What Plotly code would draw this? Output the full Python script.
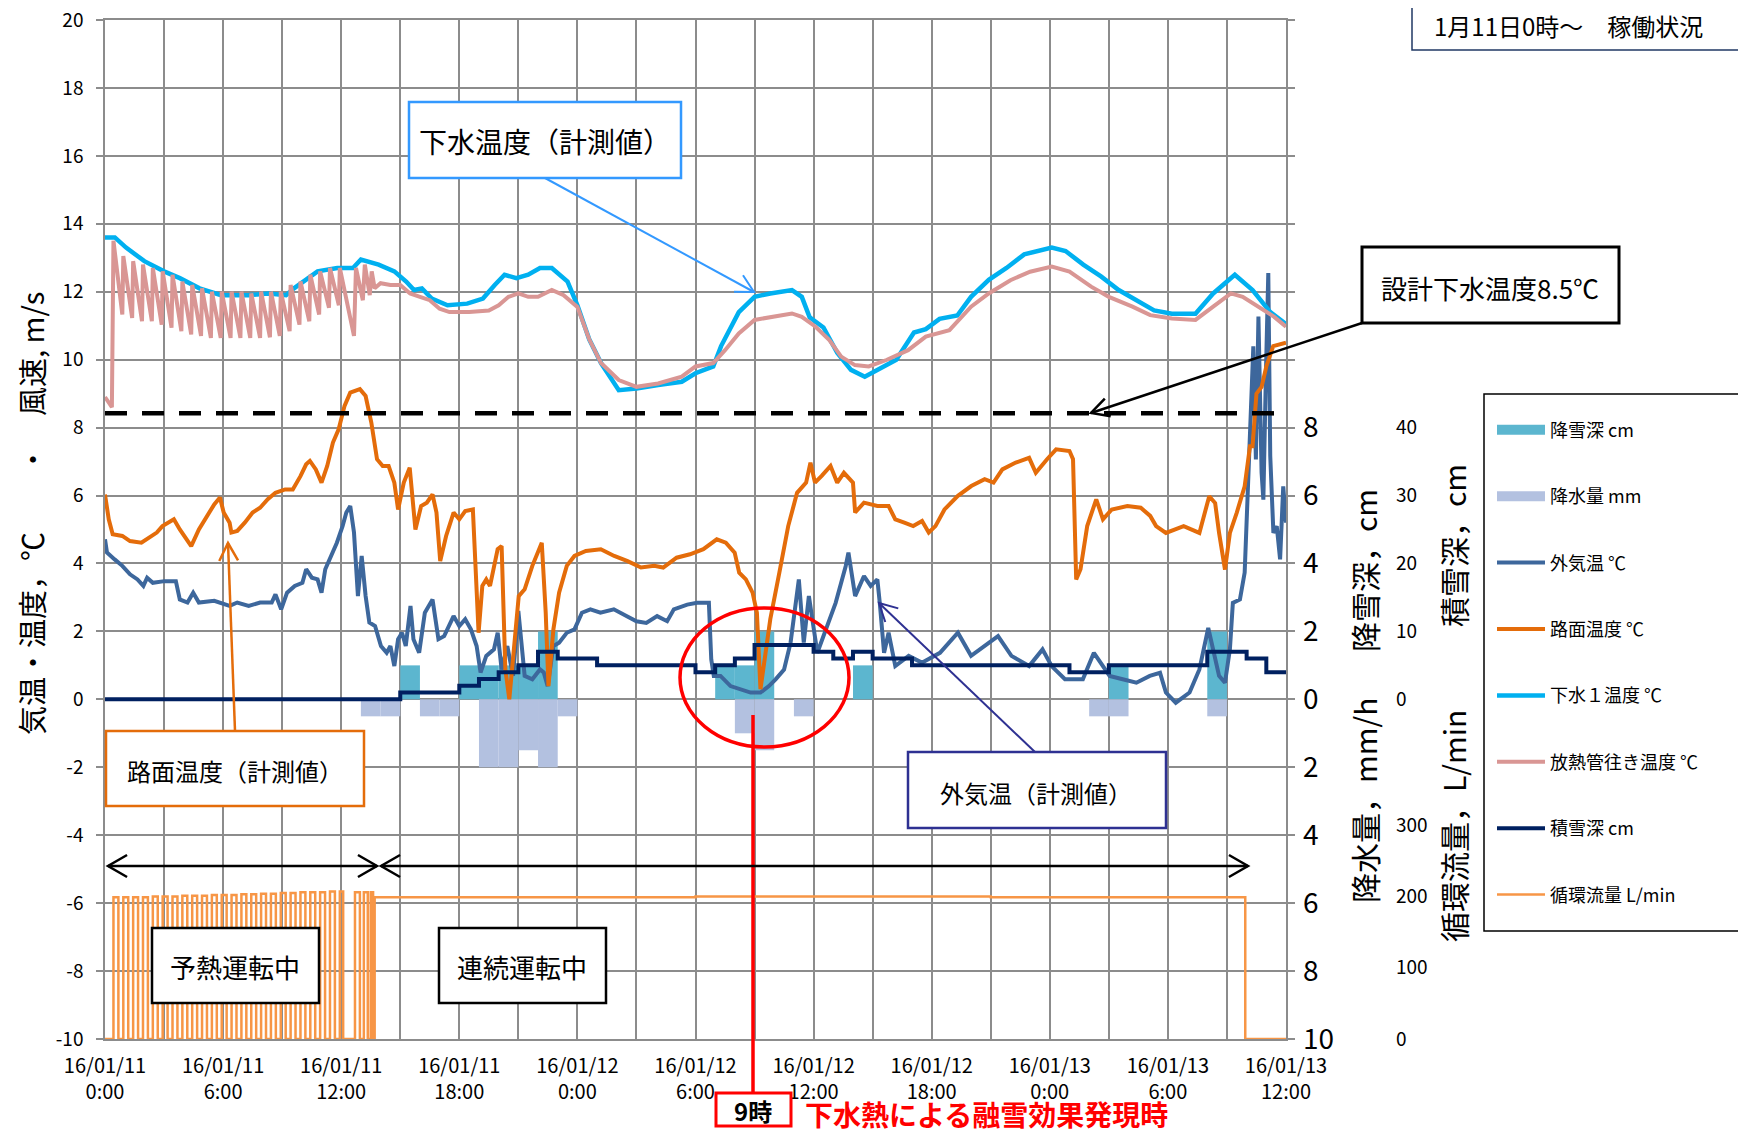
import math
import plotly.graph_objects as go

# ---------------- data (x = hours since 2016-01-11 00:00) ----------------
x_tick_hours = [0, 6, 12, 18, 24, 30, 36, 42, 48, 54, 60]
x_tick_text = ["16/01/11<br>0:00", "16/01/11<br>6:00", "16/01/11<br>12:00", "16/01/11<br>18:00",
               "16/01/12<br>0:00", "16/01/12<br>6:00", "16/01/12<br>12:00", "16/01/12<br>18:00",
               "16/01/13<br>0:00", "16/01/13<br>6:00", "16/01/13<br>12:00"]
temp_ticks = [-10, -8, -6, -4, -2, 0, 2, 4, 6, 8, 10, 12, 14, 16, 18, 20]
snowfall_ticks = [0, 2, 4, 6, 8]
precip_ticks = [2, 4, 6, 8, 10]
depth_ticks = [0, 10, 20, 30, 40]
flow_ticks = [0, 100, 200, 300]

# 降雪深 cm (hourly, bar starts at the hour)
snowfall_hour = [15, 18, 19, 20, 21, 22, 31, 32, 33, 38, 51, 56]
snowfall_cm = [1, 1, 1, 1, 1, 2, 1, 1, 2, 1, 1, 2]
# 降水量 mm/h
precip_hour = [13, 14, 16, 17, 19, 20, 21, 22, 23, 32, 33, 35, 50, 51, 56]
precip_mm = [0.5, 0.5, 0.5, 0.5, 2, 2, 1.5, 2, 0.5, 1, 1.5, 0.5, 0.5, 0.5, 0.5]

# 外気温 ℃
air_temp = [(0, 4.71), (0.1, 4.32), (0.49, 4.12), (0.88, 3.93), (1.27, 3.68), (1.65, 3.53), (1.95, 3.34),
            (2.14, 3.58), (2.43, 3.43), (3.02, 3.48), (3.6, 3.48), (3.8, 2.94), (4.19, 2.85), (4.48, 3.14),
            (4.77, 2.85), (5.55, 2.9), (6.33, 2.75), (6.72, 2.85), (7.3, 2.75), (7.88, 2.85), (8.47, 2.85),
            (8.66, 3.09), (8.95, 2.65), (9.25, 3.14), (9.64, 3.34), (10.03, 3.43), (10.22, 3.83), (10.51, 3.58),
            (10.8, 3.53), (11.0, 3.14), (11.19, 3.83), (11.49, 4.22), (11.78, 4.61), (12.07, 5.1), (12.26, 5.5),
            (12.46, 5.69), (12.65, 4.91), (12.85, 3.04), (13.04, 4.22), (13.24, 3.04), (13.43, 2.26),
            (13.72, 2.16), (14.02, 1.57), (14.31, 1.37), (14.5, 1.57), (14.7, 0.98), (14.89, 1.77), (15.09, 1.96),
            (15.28, 1.57), (15.52, 2.75), (15.67, 1.77), (15.96, 1.37), (16.25, 2.55), (16.64, 2.94),
            (16.94, 1.77), (17.23, 1.86), (17.71, 2.45), (18.0, 2.16), (18.3, 2.36), (18.59, 2.06), (18.88, 1.57),
            (19.08, 0.79), (19.37, 1.28), (19.76, 1.47), (19.95, 1.96), (20.15, 0.88), (20.44, 1.57),
            (20.73, 0.69), (21.0, 2.6), (21.32, 0.69), (21.71, 0.59), (22.1, 0.88), (22.29, 0.79), (22.49, 0.39),
            (22.78, 1.57), (23.07, 1.67), (23.46, 1.96), (23.85, 2.06), (24.23, 2.55), (24.66, 2.65),
            (25.17, 2.55), (25.85, 2.65), (26.5, 2.45), (27.0, 2.3), (27.5, 2.25), (28.05, 2.45), (28.56, 2.3),
            (28.9, 2.65), (29.58, 2.79), (30.08, 2.84), (30.68, 2.84), (30.8, 1.18), (30.93, 0.69), (31.27, 0.69),
            (31.78, 0.39), (32.29, 0.29), (32.8, 0.2), (33.3, 0.2), (33.73, 0.39), (34.07, 0.59), (34.5, 0.88),
            (34.83, 1.67), (35.25, 3.53), (35.5, 1.67), (35.76, 3.04), (36.19, 1.37), (36.69, 2.16),
            (37.12, 2.84), (37.63, 3.92), (37.77, 4.32), (38.11, 3.04), (38.56, 3.63), (38.9, 3.34),
            (39.24, 3.53), (39.36, 2.85), (39.58, 1.37), (39.81, 1.96), (40.15, 0.98), (40.83, 1.28),
            (41.5, 1.08), (42.42, 1.37), (43.33, 1.96), (44.0, 1.28), (44.7, 1.57), (45.37, 1.86), (46.05, 1.28),
            (46.95, 0.98), (47.63, 1.47), (48.09, 0.98), (48.77, 0.59), (49.68, 0.59), (50.24, 1.37),
            (51.04, 0.69), (51.7, 0.59), (52.4, 0.49), (53.08, 0.69), (53.6, 0.78), (53.9, 0.2), (54.4, -0.1),
            (55.1, 0.2), (55.6, 0.88), (56.05, 2.1), (56.3, 1.47), (56.6, 0.69), (56.9, 0.49), (57.15, 1.47),
            (57.3, 2.84), (57.66, 2.94), (57.9, 3.73), (58.1, 6.67), (58.2, 8.82), (58.34, 10.39), (58.47, 7.06),
            (58.6, 11.27), (58.76, 6.67), (58.85, 5.88), (58.98, 9.6), (59.1, 12.55), (59.2, 7.16), (59.36, 4.9),
            (59.53, 5.1), (59.7, 4.12), (59.86, 6.27), (60.0, 5.2)]

# 路面温度 ℃
road_temp = [(0, 6.03), (0.19, 5.3), (0.39, 4.86), (0.88, 4.81), (1.27, 4.66), (1.85, 4.61), (2.24, 4.76),
             (2.63, 4.91), (2.92, 5.1), (3.21, 5.2), (3.5, 5.3), (3.8, 5.0), (4.09, 4.76), (4.38, 4.51), (4.77, 5.0),
             (5.26, 5.5), (5.55, 5.74), (5.84, 5.94), (6.03, 5.5), (6.33, 5.2), (6.42, 4.91), (6.72, 4.96),
             (7.1, 5.2), (7.5, 5.5), (7.88, 5.64), (8.27, 5.89), (8.66, 6.08), (9.15, 6.18), (9.54, 6.18),
             (9.93, 6.57), (10.22, 6.92), (10.41, 7.02), (10.71, 6.77), (11.0, 6.38), (11.29, 6.87), (11.58, 7.56),
             (11.87, 7.95), (12.17, 8.64), (12.46, 9.03), (12.95, 9.13), (13.24, 8.93), (13.53, 8.15),
             (13.82, 7.07), (14.11, 6.87), (14.41, 6.87), (14.7, 6.38), (14.89, 5.59), (15.18, 6.38),
             (15.48, 6.82), (15.77, 5.0), (16.06, 5.69), (16.35, 5.79), (16.64, 6.03), (16.84, 5.5), (17.03, 4.07),
             (17.33, 4.81), (17.71, 5.5), (18.0, 5.3), (18.3, 5.54), (18.69, 5.59), (18.79, 4.22), (18.98, 1.96),
             (19.17, 3.34), (19.37, 3.53), (19.56, 3.34), (19.95, 4.42), (20.15, 4.51), (20.34, 0.88),
             (20.54, 0.0), (20.83, 1.77), (21.02, 3.04), (21.32, 3.24), (21.71, 3.93), (22.19, 4.61),
             (22.39, 2.55), (22.53, 0.39), (22.78, 2.06), (23.07, 3.14), (23.46, 3.93), (23.85, 4.22),
             (24.43, 4.37), (25.19, 4.42), (25.87, 4.22), (26.55, 4.07), (27.23, 3.88), (27.9, 3.93),
             (28.36, 3.88), (29.04, 4.17), (29.72, 4.27), (30.4, 4.42), (31.08, 4.71), (31.54, 4.61),
             (31.99, 4.32), (32.22, 3.73), (32.56, 3.53), (32.9, 3.14), (33.12, 2.55), (33.3, 0.3), (33.46, 0.98),
             (33.8, 2.36), (34.26, 3.73), (34.71, 5.1), (35.16, 6.08), (35.62, 6.38), (35.84, 6.97), (36.07, 6.38),
             (36.41, 6.58), (36.86, 6.87), (37.2, 6.38), (37.54, 6.67), (38.0, 6.38), (38.11, 5.5), (38.56, 5.79),
             (39.24, 5.69), (39.81, 5.69), (40.15, 5.3), (40.61, 5.2), (41.06, 5.1), (41.51, 5.25), (41.85, 4.91),
             (42.19, 5.1), (42.65, 5.59), (43.33, 5.99), (44.01, 6.28), (44.69, 6.48), (45.14, 6.38),
             (45.59, 6.77), (46.27, 6.97), (46.95, 7.11), (47.29, 6.67), (47.86, 7.07), (48.32, 7.36), (49.0, 7.31),
             (49.18, 7.07), (49.34, 3.53), (49.56, 3.83), (49.9, 5.1), (50.36, 5.89), (50.7, 5.3), (51.15, 5.59),
             (51.94, 5.69), (52.62, 5.64), (53.1, 5.4), (53.4, 5.1), (53.9, 4.9), (54.8, 5.1), (55.6, 4.9),
             (56.1, 5.98), (56.4, 5.78), (56.6, 4.9), (56.9, 3.82), (57.15, 4.9), (57.5, 5.5), (57.9, 6.27),
             (58.17, 7.45), (58.3, 7.45), (58.5, 9.0), (58.76, 9.2), (59.0, 9.8), (59.35, 10.4), (60.0, 10.5)]

# 下水1温度 ℃
sewage_temp = [(0, 13.6), (0.5, 13.6), (1.07, 13.3), (2.0, 12.9), (3.0, 12.6), (3.8, 12.4), (4.8, 12.1),
               (5.9, 11.9), (7.3, 11.9), (8.3, 11.95), (9.2, 11.9), (9.6, 12.1), (10.2, 12.35), (10.8, 12.6),
               (11.8, 12.7), (12.6, 12.7), (13.0, 12.95), (13.9, 12.8), (14.7, 12.6), (15.3, 12.3), (15.7, 12.05),
               (16.1, 12.1), (16.6, 11.8), (17.4, 11.6), (18.4, 11.65), (19.2, 11.8), (19.8, 12.2), (20.3, 12.5),
               (20.9, 12.4), (21.5, 12.5), (22.1, 12.7), (22.7, 12.7), (23.5, 12.3), (24.0, 11.6), (24.6, 10.6),
               (25.2, 9.9), (26.1, 9.1), (27.0, 9.15), (28.1, 9.25), (29.3, 9.35), (30.0, 9.6), (30.9, 9.8),
               (31.3, 10.4), (32.2, 11.4), (33.0, 11.85), (33.8, 11.95), (34.9, 12.05), (35.4, 11.85),
               (35.8, 11.25), (36.5, 10.95), (37.2, 10.2), (37.9, 9.7), (38.6, 9.5), (39.2, 9.7), (40.2, 10.0),
               (41.1, 10.8), (41.7, 10.9), (42.4, 11.2), (43.3, 11.3), (44.0, 11.85), (44.9, 12.35), (45.8, 12.7),
               (46.7, 13.1), (48.1, 13.3), (48.8, 13.2), (49.7, 12.8), (50.6, 12.45), (51.5, 12.05), (52.4, 11.75),
               (53.3, 11.45), (54.2, 11.35), (55.4, 11.35), (56.3, 11.95), (57.4, 12.5), (58.3, 12.05),
               (59.2, 11.4), (60.0, 11.05)]

# 放熱管往き温度 ℃
pipe_temp = [(0, 8.9), (0.35, 8.6), (0.43, 13.5), (0.88, 11.33), (0.93, 13.05), (1.38, 11.23), (1.43, 12.9),
             (1.88, 11.13), (1.93, 12.8), (2.38, 11.13), (2.43, 12.7), (2.88, 11.03), (2.93, 12.6), (3.38, 10.94),
             (3.43, 12.5), (3.88, 10.84), (3.93, 12.3), (4.38, 10.74), (4.43, 12.2), (4.88, 10.7), (4.93, 12.1),
             (5.38, 10.64), (5.43, 12.0), (5.88, 10.64), (5.93, 12.0), (6.38, 10.64), (6.43, 12.0), (6.88, 10.64),
             (6.93, 12.0), (7.38, 10.64), (7.43, 11.95), (7.88, 10.64), (7.93, 12.0), (8.38, 10.66), (8.43, 12.0),
             (8.88, 10.7), (8.93, 12.0), (9.38, 10.84), (9.43, 12.2), (9.88, 11.03), (9.93, 12.3), (10.38, 11.13),
             (10.43, 12.5), (10.88, 11.33), (10.93, 12.6), (11.38, 11.53), (11.43, 12.7), (11.88, 11.6),
             (11.93, 12.7), (12.65, 10.7), (12.75, 12.7), (13.1, 11.75), (13.2, 12.8), (13.45, 11.9),
             (13.55, 12.6), (13.7, 12.1), (14.0, 12.25), (14.5, 12.2), (15.0, 12.2), (15.5, 11.95), (16.0, 11.85),
             (16.5, 11.75), (17.0, 11.5), (17.5, 11.4), (18.5, 11.4), (19.5, 11.45), (20.0, 11.6), (20.5, 11.85),
             (21.0, 11.95), (21.5, 11.85), (22.0, 11.85), (22.7, 12.05), (23.3, 11.9), (24.0, 11.55), (24.6, 10.6),
             (25.2, 9.9), (26.1, 9.4), (27.0, 9.2), (28.1, 9.3), (29.3, 9.5), (30.0, 9.8), (30.9, 9.9),
             (31.5, 10.28), (32.2, 10.77), (33.0, 11.17), (33.8, 11.26), (34.9, 11.36), (35.4, 11.26),
             (36.1, 10.97), (36.8, 10.58), (37.4, 10.09), (38.1, 9.84), (38.8, 9.8), (39.7, 9.99), (40.8, 10.28),
             (41.7, 10.68), (42.9, 10.87), (44.0, 11.56), (44.9, 11.95), (46.0, 12.34), (47.0, 12.59),
             (48.1, 12.74), (49.0, 12.59), (50.1, 12.15), (51.0, 11.85), (52.2, 11.56), (53.1, 11.31),
             (54.2, 11.21), (55.4, 11.17), (56.3, 11.56), (57.2, 11.95), (57.8, 11.85), (58.8, 11.46),
             (59.4, 11.26), (60.0, 10.97)]

# 設計下水温度 (dashed reference line as drawn)
design_temp = [(0, 8.42), (60, 8.42)]

# 積雪深 cm (step values from each hour)
snow_depth = [(0, 0), (15, 1), (18, 2), (19, 3), (20, 4), (21, 5), (22, 7), (23, 6), (25, 5), (30, 4), (31, 5),
              (32, 6), (33, 8), (36, 7), (37, 6), (38, 7), (39, 6), (41, 5), (49, 4), (51, 5), (56, 7), (58, 6),
              (59, 4), (60, 4)]

# 循環流量 L/min (step values)
flow = [(0, 0), (0.43, 199), (0.68, 0), (0.93, 199), (1.18, 0), (1.43, 199), (1.68, 0), (1.93, 199), (2.18, 0),
        (2.43, 200), (2.68, 0), (2.93, 200), (3.18, 0), (3.43, 200), (3.68, 0), (3.93, 201), (4.18, 0),
        (4.43, 201), (4.68, 0), (4.93, 201), (5.18, 0), (5.43, 202), (5.68, 0), (5.93, 202), (6.18, 0),
        (6.43, 202), (6.68, 0), (6.93, 203), (7.18, 0), (7.43, 203), (7.68, 0), (7.93, 204), (8.18, 0),
        (8.43, 204), (8.68, 0), (8.93, 205), (9.18, 0), (9.43, 205), (9.68, 0), (9.93, 206), (10.18, 0),
        (10.43, 206), (10.68, 0), (10.93, 206), (11.18, 0), (11.43, 207), (11.68, 0), (11.93, 207), (12.1, 0),
        (12.7, 206), (12.95, 0), (13.15, 206), (13.35, 0), (13.5, 206), (13.62, 0), (13.7, 199), (30.0, 200),
        (45.0, 199), (57.93, 0), (60.0, 0)]

# ---------------- layout helpers (screen pixel -> paper) ----------------
# the page body has an 8px margin, so the figure is drawn 8px in from the window corner
OFF = 8
WF, HF = 1746 - OFF, 1134 - OFF
ML, MR, MT, MB = 97, 8, 12, 95


def px(x):
    return (x - OFF - ML) / (WF - ML - MR)


def py(y):
    return (HF - MB - (y - OFF)) / (HF - MT - MB)


FONT = "Noto Sans CJK JP"
GRID = "#8c8c8c"
C_SNOW = "#5cb6cf"
C_PREC = "#b3c1e0"
C_AIR = "#3d679c"
C_ROAD = "#e46c0a"
C_SEW = "#00b0f0"
C_PIPE = "#d99694"
C_DEPTH = "#002060"
C_FLOW = "#f79646"


def xs(pairs):
    return [p[0] for p in pairs]


def ys(pairs):
    return [p[1] for p in pairs]


fig = go.Figure()
fig.add_trace(go.Bar(x=snowfall_hour, y=snowfall_cm, width=1, offset=0, marker=dict(color=C_SNOW, line_width=0),
                     name="降雪深 cm", yaxis="y", showlegend=False))
fig.add_trace(go.Bar(x=precip_hour, y=precip_mm, width=1, offset=0, marker=dict(color=C_PREC, line_width=0),
                     name="降水量 mm", yaxis="y2", showlegend=False))
# legend swatches for the two bar series (wide rectangles, as in the original legend)
fig.add_trace(go.Scatter(x=[None], y=[None], mode="lines", line=dict(color=C_SNOW, width=10),
                         name="降雪深 cm", yaxis="y", legendgroup="a"))
fig.add_trace(go.Scatter(x=[None], y=[None], mode="lines", line=dict(color=C_PREC, width=10),
                         name="降水量 mm", yaxis="y2", legendgroup="b"))
fig.add_trace(go.Scatter(x=xs(air_temp), y=ys(air_temp), mode="lines", line=dict(color=C_AIR, width=4),
                         name="外気温 ℃", yaxis="y3", legendgroup="c"))
fig.add_trace(go.Scatter(x=xs(road_temp), y=ys(road_temp), mode="lines", line=dict(color=C_ROAD, width=4),
                         name="路面温度 ℃", yaxis="y3", legendgroup="d"))
fig.add_trace(go.Scatter(x=xs(sewage_temp), y=ys(sewage_temp), mode="lines", line=dict(color=C_SEW, width=4.5),
                         name="下水１温度 ℃", yaxis="y3", legendgroup="e"))
fig.add_trace(go.Scatter(x=xs(pipe_temp), y=ys(pipe_temp), mode="lines", line=dict(color=C_PIPE, width=4),
                         name="放熱管往き温度 ℃", yaxis="y3", legendgroup="f"))
fig.add_trace(go.Scatter(x=xs(design_temp), y=ys(design_temp), mode="lines",
                         line=dict(color="black", width=4.5, dash="22px,15px"),
                         name="設計下水温度", yaxis="y3", showlegend=False))
fig.add_trace(go.Scatter(x=xs(snow_depth), y=ys(snow_depth), mode="lines", line=dict(color=C_DEPTH, width=4, shape="hv"),
                         name="積雪深 cm", yaxis="y4", legendgroup="g"))
fig.add_trace(go.Scatter(x=xs(flow), y=ys(flow), mode="lines", line=dict(color=C_FLOW, width=2.5, shape="hv"),
                         name="循環流量 L/min", yaxis="y5", legendgroup="h"))

x_end = px(1286)
axis_common = dict(zeroline=False, automargin=False, showgrid=False, ticklabeloverflow="allow")

fig.update_layout(
    template="none",
    width=WF, height=HF,
    margin=dict(l=ML, r=MR, t=MT, b=MB),
    paper_bgcolor="white", plot_bgcolor="white",
    font=dict(family=FONT, color="black"),
    hovermode=False,
    barmode="overlay",
    xaxis=dict(domain=[0, x_end], range=[0, 60], tickvals=x_tick_hours, ticktext=x_tick_text,
               showgrid=True, gridcolor=GRID, gridwidth=1.5,
               minor=dict(dtick=3, tick0=0, showgrid=True, gridcolor=GRID, gridwidth=1.5),
               showline=True, linecolor=GRID, linewidth=1.5, mirror=True, zeroline=False, automargin=False,
               tickfont=dict(size=20, color="black"), ticks="", ticklabelstandoff=8,
               ticklabeloverflow="allow"),
    yaxis=dict(range=[-10, 20], side="right", anchor="x", tickvals=snowfall_ticks,
               ticktext=[str(v) for v in snowfall_ticks], tickfont=dict(size=28, color="black"),
               ticks="", ticklabelstandoff=16, **axis_common),
    yaxis2=dict(range=[10, -20], side="right", anchor="x", overlaying="y", tickvals=precip_ticks,
                ticktext=[str(v) for v in precip_ticks], tickfont=dict(size=28, color="black"),
                ticks="", ticklabelstandoff=16, **axis_common),
    yaxis3=dict(range=[-10, 20], side="left", anchor="x", overlaying="y", tickvals=temp_ticks,
                ticktext=[str(v) for v in temp_ticks], tickfont=dict(size=19, color="black"),
                showgrid=True, gridcolor=GRID, gridwidth=1.5, showline=True, linecolor=GRID, linewidth=1.5,
                mirror="ticks", ticks="outside", ticklen=7, tickcolor=GRID, tickwidth=1.5,
                ticklabelstandoff=9, zeroline=False, automargin=False, ticklabeloverflow="allow"),
    yaxis4=dict(range=[-50, 100], side="right", anchor="free", position=px(1395), overlaying="y",
                tickvals=depth_ticks, ticktext=[str(v) for v in depth_ticks],
                tickfont=dict(size=19, color="black"), ticks="", **axis_common),
    yaxis5=dict(range=[0, 1430], side="right", anchor="free", position=px(1395), overlaying="y",
                tickvals=flow_ticks, ticktext=[str(v) for v in flow_ticks],
                tickfont=dict(size=19, color="black"), ticks="", **axis_common),
    legend=dict(x=px(1492), y=py(396), xanchor="left", yanchor="top", bgcolor="rgba(0,0,0,0)",
                borderwidth=0, font=dict(size=18, color="black"), tracegroupgap=40, itemwidth=48,
                title=dict(text=" ", font=dict(size=12))),
    showlegend=True,
)

shapes = []
annotations = []


def rect(x0, y0, x1, y1, color, width, fill="white"):
    shapes.append(dict(type="rect", xref="paper", yref="paper", x0=px(x0), x1=px(x1), y0=py(y0), y1=py(y1),
                       line=dict(color=color, width=width), fillcolor=fill, layer="above"))


def seg(x0, y0, x1, y1, color, width):
    shapes.append(dict(type="line", xref="paper", yref="paper", x0=px(x0), x1=px(x1), y0=py(y0), y1=py(y1),
                       line=dict(color=color, width=width), layer="above"))


def chevron(xt, yt, xf, yf, color, width, length=20, ang=28):
    d = math.hypot(xf - xt, yf - yt)
    ux, uy = (xf - xt) / d, (yf - yt) / d
    pts = []
    for s in (1, -1):
        a = math.radians(ang * s)
        rx = ux * math.cos(a) - uy * math.sin(a)
        ry = ux * math.sin(a) + uy * math.cos(a)
        pts.append((xt + rx * length, yt + ry * length))
    path = "M {:.5f},{:.5f} L {:.5f},{:.5f} L {:.5f},{:.5f}".format(
        px(pts[0][0]), py(pts[0][1]), px(xt), py(yt), px(pts[1][0]), py(pts[1][1]))
    shapes.append(dict(type="path", xref="paper", yref="paper", path=path,
                       line=dict(color=color, width=width), layer="above"))


def arrow(xf, yf, xt, yt, color, width, length=20):
    seg(xf, yf, xt, yt, color, width)
    chevron(xt, yt, xf, yf, color, width, length)


def text(x, y, s, size, color="black", angle=0):
    annotations.append(dict(xref="paper", yref="paper", x=px(x), y=py(y), text=s, showarrow=False,
                            xanchor="center", yanchor="middle", textangle=angle,
                            font=dict(size=size, color=color, family=FONT)))


# axis titles
text(31, 514, "気温・温度，℃　　・　風速, m/s", 29, angle=-90)
text(1364, 571, "降雪深，cm", 30, angle=-90)
text(1364, 800, "降水量，mm/h", 30, angle=-90)
text(1453, 546, "積雪深，cm", 30, angle=-90)
text(1453, 826, "循環流量，L/min", 30, angle=-90)

# legend frame
shapes.append(dict(type="rect", xref="paper", yref="paper", x0=px(1484), x1=px(1739), y0=py(394), y1=py(931),
                   line=dict(color="black", width=1.5), fillcolor="rgba(0,0,0,0)", layer="above"))

# title box
rect(1412, -5, 1770, 50, "#203864", 1.5)
text(1568, 25, "1月11日0時～　稼働状況", 24)

# callouts
rect(409, 102, 681, 178, "#3399ff", 2.5)
text(545, 141, "下水温度（計測値）", 28)
arrow(545, 178, 754, 292, "#3399ff", 2)

rect(1362, 247, 1619, 323, "black", 3)
text(1490, 287, "設計下水温度8.5℃", 26)
arrow(1362, 323, 1091, 413, "black", 2.5)

rect(106, 731, 364, 806, C_ROAD, 2.5)
text(235, 770, "路面温度（計測値）", 24)
arrow(235, 731, 228, 543, C_ROAD, 2.5)

rect(908, 752, 1166, 828, "#2e3192", 2.5)
text(1036, 792, "外気温（計測値）", 24)
arrow(1035, 752, 879, 603, "#2e3192", 2)

# red highlight
shapes.append(dict(type="circle", xref="paper", yref="paper", x0=px(680), x1=px(849), y0=py(608), y1=py(747),
                   line=dict(color="#ff0000", width=3.5), layer="above"))
seg(753, 715, 753, 1092, "#ff0000", 3.5)
rect(716, 1093, 791, 1126, "#ff0000", 3)
text(753, 1110, "<b>9時</b>", 24)
text(986, 1114, "<b>下水熱による融雪効果発現時</b>", 28, color="#ff0000")

# operation periods
seg(108, 866, 377, 866, "black", 2.5)
chevron(108, 866, 377, 866, "black", 2.5, 22, 30)
chevron(377, 866, 108, 866, "black", 2.5, 22, 30)
seg(381, 866, 1248, 866, "black", 2.5)
chevron(381, 866, 1248, 866, "black", 2.5, 22, 30)
chevron(1248, 866, 381, 866, "black", 2.5, 22, 30)
rect(152, 928, 319, 1003, "black", 2.5)
text(235, 966, "予熱運転中", 26)
rect(439, 928, 606, 1003, "black", 2.5)
text(522, 966, "連続運転中", 26)

fig.update_layout(shapes=shapes, annotations=annotations)
fig.write_html("out.html")
